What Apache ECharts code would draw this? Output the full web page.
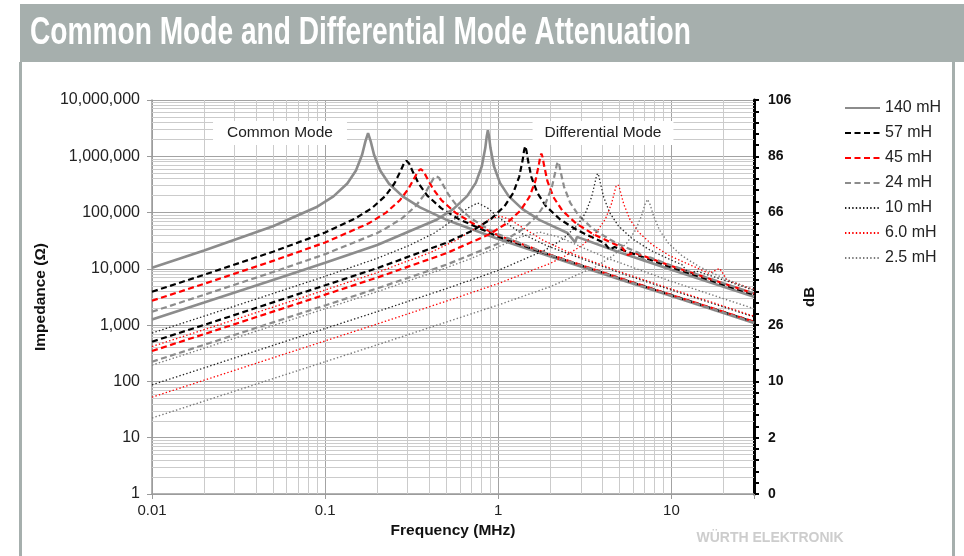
<!DOCTYPE html>
<html>
<head>
<meta charset="utf-8">
<script src="https://cdn.jsdelivr.net/npm/echarts@6.0.0/dist/echarts.min.js"></script>
<style>
  html, body { margin: 0; padding: 0; background: #ffffff; }
  #chart { width: 964px; height: 556px; }
</style>
</head>
<body>
<div id="chart"></div>
<script>
const FONT = '"Liberation Sans", Arial, sans-serif';

// Legend entries (inductance values)
const legendNames = ['140 mH', '57 mH', '45 mH', '24 mH', '10 mH', '6.0 mH', '2.5 mH'];

// Axis tick labels
const xTickValues = [0.01, 0.1, 1, 10];
const xTickLabels = ['0.01', '0.1', '1', '10'];
const yTickLabels = ['1', '10', '100', '1,000', '10,000', '100,000', '1,000,000', '10,000,000'];
const dbLabels = ['0', '2', '10', '26', '46', '66', '86', '106'];

// Common mode impedance, [frequency (MHz), impedance (ohm)]
const cm140 = [[0.01,10500],[0.02,21200],[0.05,57000],[0.0887,124000],[0.1117,194000],[0.1343,328000],[0.1507,559000],[0.1633,1050000],[0.171,1860000],[0.177,2580000],[0.1832,1860000],[0.1919,1050000],[0.208,559000],[0.2333,328000],[0.2805,194000],[0.3532,124000],[0.5,74800],[1,33800],[2,16600],[5,6560],[10,3280],[20,1640],[30,1090]];
const cm57 = [[0.01,3920],[0.02,7850],[0.05,20200],[0.1,44200],[0.1479,77100],[0.1862,119900],[0.2239,200500],[0.2512,328300],[0.2723,543000],[0.2851,745300],[0.2951,832300],[0.3055,745300],[0.3199,543000],[0.3467,328300],[0.389,200500],[0.4677,119900],[0.5888,77100],[1,37300],[2,17500],[5,6830],[10,3410],[20,1710],[30,1140]];
const cm45 = [[0.01,2710],[0.02,5430],[0.05,13850],[0.1,29400],[0.1786,64300],[0.2249,99800],[0.2704,165800],[0.3034,266700],[0.3289,421500],[0.3443,546400],[0.3565,593400],[0.369,546400],[0.3864,421500],[0.4188,266700],[0.4699,165800],[0.5649,99800],[0.7112,64300],[1,39400],[2,17800],[5,6910],[10,3440],[20,1730],[30,1150]];
const cm24 = [[0.01,1730],[0.02,3460],[0.05,8770],[0.1,18250],[0.2,43300],[0.2203,50600],[0.2773,78500],[0.3334,129900],[0.3741,207700],[0.4055,323600],[0.4246,412600],[0.4395,444900],[0.455,412600],[0.4764,323600],[0.5164,207700],[0.5794,129900],[0.6966,78500],[0.877,50600],[1,41200],[2,17600],[5,6720],[10,3350],[20,1680],[30,1110]];
const cm10 = [[0.01,724],[0.02,1445],[0.05,3650],[0.1,7370],[0.2,15400],[0.3027,25700],[0.4276,43300],[0.5768,82000],[0.6622,118900],[0.7603,148300],[0.873,118900],[1.002,82000],[1.352,43300],[1.91,25700],[5,8540],[10,4210],[20,2100],[30,1400]];
const cm6 = [[0.01,417],[0.02,832],[0.05,2090],[0.1,4210],[0.2,8610],[0.4055,19570],[0.5728,32400],[0.7727,57100],[0.8872,75500],[1.019,86700],[1.169,75500],[1.343,57100],[1.811,32400],[2.559,19570],[5,8950],[10,4370],[20,2180],[30,1440]];
const cm25 = [[0.01,195],[0.02,389],[0.05,978],[0.1,1960],[0.2,3930],[0.5,10400],[0.6902,15100],[0.975,23700],[1.315,36100],[1.734,45000],[2.286,36100],[3.083,23700],[4.355,15100],[10,5990],[20,2950],[30,1960]];

// Differential mode impedance, [frequency (MHz), impedance (ohm)]
const dm140 = [[0.01,1260],[0.02,2520],[0.05,6350],[0.1,12800],[0.2,26600],[0.4365,73600],[0.5495,115100],[0.6607,195900],[0.7413,337200],[0.8035,663500],[0.8414,1398000],[0.857,2216000],[0.871,2917000],[0.8851,2216000],[0.9016,1398000],[0.9441,663500],[1.023,337200],[1.148,195900],[1.38,115100],[1.738,73600],[2.512,43300],[2.78,29500],[2.85,37000],[5,19700],[10,9650],[20,4810],[30,3190]];
const dm57 = [[0.01,507],[0.02,1010],[0.05,2540],[0.1,5100],[0.2,10300],[0.5,28950],[0.7178,48600],[0.9036,76000],[1.086,129200],[1.219,221900],[1.321,431500],[1.384,864900],[1.409,1259000],[1.432,1518000],[1.455,1259000],[1.483,864900],[1.552,431500],[1.683,221900],[1.888,129200],[2.27,76000],[2.858,48600],[4.1,28900],[4.4,22000],[4.7,24400],[10,10600],[20,5240],[30,3470]];
const dm45 = [[0.01,347],[0.02,692],[0.05,1740],[0.1,3480],[0.2,7010],[0.5,18900],[0.8892,41200],[1.119,64400],[1.346,109400],[1.51,187400],[1.637,361100],[1.714,697900],[1.746,966700],[1.774,1121000],[1.803,966700],[1.837,697900],[1.923,361100],[2.084,187400],[2.339,109400],[2.812,64400],[3.54,41200],[5.2,23700],[5.6,17600],[6.1,19400],[10,11250],[20,5510],[30,3650]];
const dm24 = [[0.01,224],[0.02,447],[0.05,1120],[0.1,2240],[0.2,4500],[0.5,11800],[1,28100],[1.109,33100],[1.396,51800],[1.679,88000],[1.884,150300],[2.042,286700],[2.138,533600],[2.178,707800],[2.213,797600],[2.249,707800],[2.291,533600],[2.399,286700],[2.6,150300],[2.917,88000],[3.508,51800],[4.416,33100],[5,27200],[6.5,19070],[7,13800],[7.5,16000],[10,11500],[20,5560],[30,3680]];
const dm10 = [[0.01,87.1],[0.02,174],[0.05,437],[0.1,871],[0.2,1740],[0.5,4440],[1,9380],[1.879,21800],[2.366,34200],[2.844,57900],[3.192,98900],[3.459,187500],[3.622,342500],[3.69,445800],[3.75,496400],[3.811,445800],[3.882,342500],[4.064,187500],[4.406,98900],[4.943,57900],[5.943,34200],[7.482,21800],[10,14250],[11.5,11900],[12.7,7900],[13.8,9200],[20,6370],[30,4150]];
const dm6 = [[0.01,52.5],[0.02,105],[0.05,263],[0.1,525],[0.2,1050],[0.5,2660],[1,5480],[2,12560],[2.449,17140],[3.083,26800],[3.707,45400],[4.159,77000],[4.508,143200],[4.721,246900],[4.808,305000],[4.887,330300],[4.966,305000],[5.058,246900],[5.297,143200],[5.741,77000],[6.442,45400],[7.745,26800],[9.75,17140],[16.5,8320],[19,10200],[21,6310],[30,4290]];
const dm25 = [[0.01,22.4],[0.02,44.7],[0.05,112],[0.1,224],[0.2,447],[0.5,1130],[1,2280],[2,4830],[3.648,10880],[4.592,17000],[5.521,28700],[6.194,48300],[6.714,87000],[7.031,138700],[7.278,171300],[7.534,138700],[7.889,87000],[8.551,48300],[9.594,28700],[11.53,17000],[14.52,10880],[20,6850],[30,4200]];

// Line appearance per inductance
const lineStyles = {
  '140 mH': { color: '#8c8c8c', width: 2.6, type: 'solid' },
  '57 mH':  { color: '#000000', width: 2.2, type: [6, 3.5] },
  '45 mH':  { color: '#ff0000', width: 2.2, type: [6, 3.5] },
  '24 mH':  { color: '#8c8c8c', width: 2.2, type: [6, 3.5] },
  '10 mH':  { color: '#222222', width: 1.3, type: [1.4, 2.2] },
  '6.0 mH': { color: '#ff0000', width: 1.3, type: [1.4, 2.2] },
  '2.5 mH': { color: '#7a7a7a', width: 1.4, type: [1.4, 2.2] }
};

const curves = [
  ['140 mH', cm140], ['57 mH', cm57], ['45 mH', cm45], ['24 mH', cm24],
  ['10 mH', cm10], ['6.0 mH', cm6], ['2.5 mH', cm25],
  ['140 mH', dm140], ['57 mH', dm57], ['45 mH', dm45], ['24 mH', dm24],
  ['10 mH', dm10], ['6.0 mH', dm6], ['2.5 mH', dm25]
];

// Minor log grid positions (2..9 within every decade)
const minorX = [];
[0.01, 0.1, 1, 10].forEach(d => { for (let m = 2; m <= 9; m++) { const v = +(d * m).toPrecision(3); if (v < 30) minorX.push(v); } });
const minorY = [];
for (let k = 0; k < 7; k++) { for (let m = 2; m <= 9; m++) minorY.push(m * Math.pow(10, k)); }

const gridSeries = {
  type: 'line',
  name: 'grid',
  data: [],
  silent: true,
  z: 1,
  markLine: {
    silent: true,
    z: 1,
    symbol: ['none', 'none'],
    label: { show: false },
    emphasis: { disabled: true },
    animation: false,
    lineStyle: { color: '#cbcbcb', width: 1, type: 'solid' },
    data: minorX.map(v => ({ xAxis: v })).concat(minorY.map(v => ({ yAxis: v })))
  }
};

const curveSeries = curves.map(([name, data]) => {
  const s = lineStyles[name];
  return {
    type: 'line',
    name: name,
    data: data,
    xAxisIndex: 0,
    yAxisIndex: 0,
    symbol: 'none',
    z: 3,
    silent: true,
    lineStyle: { color: s.color, width: s.width, type: s.type },
    itemStyle: { color: s.color }
  };
});

const chart = echarts.init(document.getElementById('chart'), null, { renderer: 'canvas' });

chart.setOption({
  animation: false,
  backgroundColor: '#ffffff',
  textStyle: { fontFamily: FONT },
  grid: { left: 152, right: 210, top: 100, bottom: 62, containLabel: false },
  legend: {
    data: legendNames,
    orient: 'vertical',
    left: 839,
    top: 95,
    itemWidth: 35,
    itemHeight: 14,
    itemGap: 9,
    selectedMode: false,
    itemStyle: { opacity: 0 },
    textStyle: { fontFamily: FONT, fontSize: 16, color: '#222222' }
  },
  xAxis: {
    type: 'log',
    logBase: 10,
    min: 0.01,
    max: 30,
    name: 'Frequency (MHz)',
    nameLocation: 'middle',
    nameGap: 25,
    nameTextStyle: { fontFamily: FONT, fontWeight: 'bold', fontSize: 15.5, color: '#111' },
    axisLine: { lineStyle: { color: '#9a9a9a', width: 1.5 } },
    axisTick: { show: true, length: 5, lineStyle: { color: '#9a9a9a', width: 1 } },
    axisLabel: {
      fontFamily: FONT, fontSize: 15, color: '#222', margin: 9,
      formatter: v => {
        const i = xTickValues.findIndex(t => Math.abs(Math.log10(v) - Math.log10(t)) < 1e-6);
        return i >= 0 ? xTickLabels[i] : '';
      }
    },
    splitLine: { show: true, lineStyle: { color: '#a3a3a3', width: 1 } }
  },
  yAxis: [
    {
      type: 'log',
      logBase: 10,
      min: 1,
      max: 10000000,
      position: 'left',
      name: 'Impedance (\u03A9)',
      nameLocation: 'middle',
      nameGap: 89,
      nameTextStyle: { fontFamily: FONT, fontWeight: 'bold', fontSize: 15.5, color: '#111' },
      axisLine: { show: true, lineStyle: { color: '#9a9a9a', width: 1.5 } },
      axisTick: { show: true, length: 5, lineStyle: { color: '#9a9a9a', width: 1 } },
      axisLabel: {
        fontFamily: FONT, fontSize: 16, color: '#222', margin: 12,
        formatter: v => yTickLabels[Math.round(Math.log10(v))] || ''
      },
      splitLine: { show: true, lineStyle: { color: '#a3a3a3', width: 1 } }
    },
    {
      type: 'value',
      min: 0,
      max: 35,
      interval: 5,
      position: 'right',
      name: 'dB',
      nameLocation: 'middle',
      nameGap: 47,
      nameRotate: 90,
      nameTextStyle: { fontFamily: FONT, fontWeight: 'bold', fontSize: 15, color: '#111' },
      axisLine: { show: true, lineStyle: { color: '#000000', width: 3 } },
      axisTick: { show: true, length: 5, lineStyle: { color: '#000000', width: 2 } },
      minorTick: { show: true, splitNumber: 5, length: 5, lineStyle: { color: '#000000', width: 2 } },
      axisLabel: {
        fontFamily: FONT, fontSize: 14, fontWeight: 'bold', color: '#111', margin: 14,
        formatter: v => dbLabels[Math.round(v / 5)]
      },
      splitLine: { show: false }
    }
  ],
  graphic: [
    { type: 'rect', z: 20, shape: { x: 20, y: 4, width: 944, height: 58 }, style: { fill: '#a6afad' } },
    { type: 'rect', z: 20, shape: { x: 19, y: 62, width: 3, height: 494 }, style: { fill: '#a6afad' } },
    { type: 'rect', z: 20, shape: { x: 952, y: 62, width: 3, height: 494 }, style: { fill: '#a6afad' } },
    {
      type: 'text', z: 21, x: 30, y: 34, scaleX: 0.74,
      style: { text: 'Common Mode and Differential Mode Attenuation', fill: '#ffffff',
               font: 'bold 38px ' + FONT, verticalAlign: 'middle' }
    },
    {
      type: 'text', z: 21, x: 280, y: 133,
      style: { text: 'Common Mode', fill: '#222', font: '15.5px ' + FONT, align: 'center', verticalAlign: 'middle',
               backgroundColor: '#ffffff', padding: [4, 14, 4, 14] }
    },
    {
      type: 'text', z: 21, x: 603, y: 133,
      style: { text: 'Differential Mode', fill: '#222', font: '15.5px ' + FONT, align: 'center', verticalAlign: 'middle',
               backgroundColor: '#ffffff', padding: [4, 12, 4, 12] }
    },
    {
      type: 'text', z: 21, x: 770, y: 538,
      style: { text: 'W\u00DCRTH ELEKTRONIK', fill: '#cdcdcd', font: 'bold 14px ' + FONT, align: 'center', verticalAlign: 'middle' }
    }
  ],
  series: [gridSeries].concat(curveSeries)
});
</script>
</body>
</html>
